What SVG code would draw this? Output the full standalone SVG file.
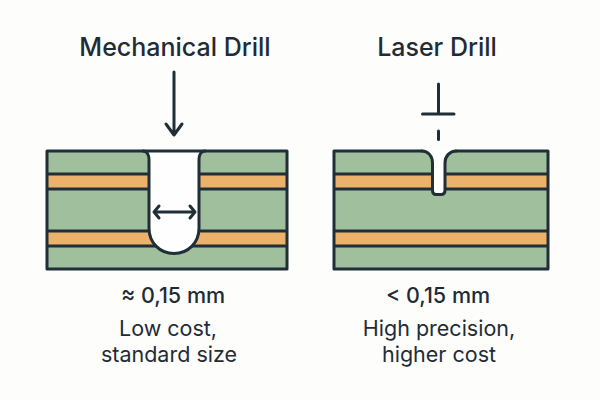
<svg xmlns="http://www.w3.org/2000/svg" width="600" height="400" viewBox="0 0 600 400">
<style>
.t{font-family:Inter,"Liberation Sans",sans-serif;fill:#1f2c36;text-anchor:middle}
.h{font-size:25px;font-weight:500}
.m{font-size:21.5px;font-weight:500}
.b{font-size:21.5px;font-weight:400}
.l{fill:none;stroke:#1f2e37;stroke-width:3;stroke-linecap:round;stroke-linejoin:round}
.g{fill:#a0bf9c}
.o{fill:#ecb26c}
.k{fill:none;stroke:#1f2e37;stroke-width:3}
</style>
<rect width="600" height="400" fill="#fdfdfc"/>
<g id="mechanical-board">
<rect class="g" x="47" y="151" width="240" height="118"/>
<rect class="o" x="47" y="174" width="240" height="15"/>
<rect class="o" x="47" y="231" width="240" height="15"/>
<path class="k" d="M47 174H287M47 189H287M47 231H287M47 246H287"/>
<path d="M144 151H204C201 152 199.500 155 199.500 160V228C199.500 243 188 253.500 174 253.500C160 253.500 148.500 243 148.500 228V160C148.500 155 147 152 144 151Z" fill="#fefefe"/>
<path class="l" d="M47 151H287V269H47Z"/>
<path class="l" d="M143 151C147 151 149 155 149 160V228C149 243 160 253.500 174 253.500C188 253.500 199 243 199 228V160C199 155 201 151 205 151"/>
</g>
<g id="laser-board">
<rect class="g" x="334" y="151" width="214" height="118"/>
<rect class="o" x="334" y="174" width="214" height="15"/>
<rect class="o" x="334" y="231" width="214" height="15"/>
<path class="k" d="M334 174H548M334 189H548M334 231H548M334 246H548"/>
<path d="M422 149.500H456V152C449 152 445 156 445 163V190C445 193 443.500 194.500 441 194.500H436C433.500 194.500 432.500 193 432.500 190V163C432.500 156 428 152 422 152Z" fill="#fefefe"/>
<path class="l" d="M422 151H334V269H548V151H456"/>
<path class="l" d="M422 151C428 151 432.500 156 432.500 163V190C432.500 193 433.500 194.500 436 194.500H441C443.500 194.500 445 193 445 190V163C445 156 450 151 456 151"/>
</g>
<g id="connectors">
<path class="l" d="M174 72V135M166 124L174 135L182 124"/>
<path class="l" stroke-width="2.500" d="M154 212H195M159 206L154 212L159 218M190 206L195 212L190 218"/>
<path class="l" d="M438.500 84V114M422.500 114H454"/>
<path class="l" d="M438.500 131V139.500"/>
</g>
<g id="labels">
<text class="t h" x="175" y="56">Mechanical Drill</text>
<text class="t h" x="437" y="56">Laser Drill</text>
<text class="t m" x="173" y="303">≈ 0,15 mm</text>
<text class="t m" x="438" y="303">&lt; 0,15 mm</text>
<text class="t b" x="168" y="336">Low cost,</text>
<text class="t b" x="169" y="362">standard size</text>
<text class="t b" x="439" y="336">High precision,</text>
<text class="t b" x="439" y="362">higher cost</text>
</g>
</svg>
